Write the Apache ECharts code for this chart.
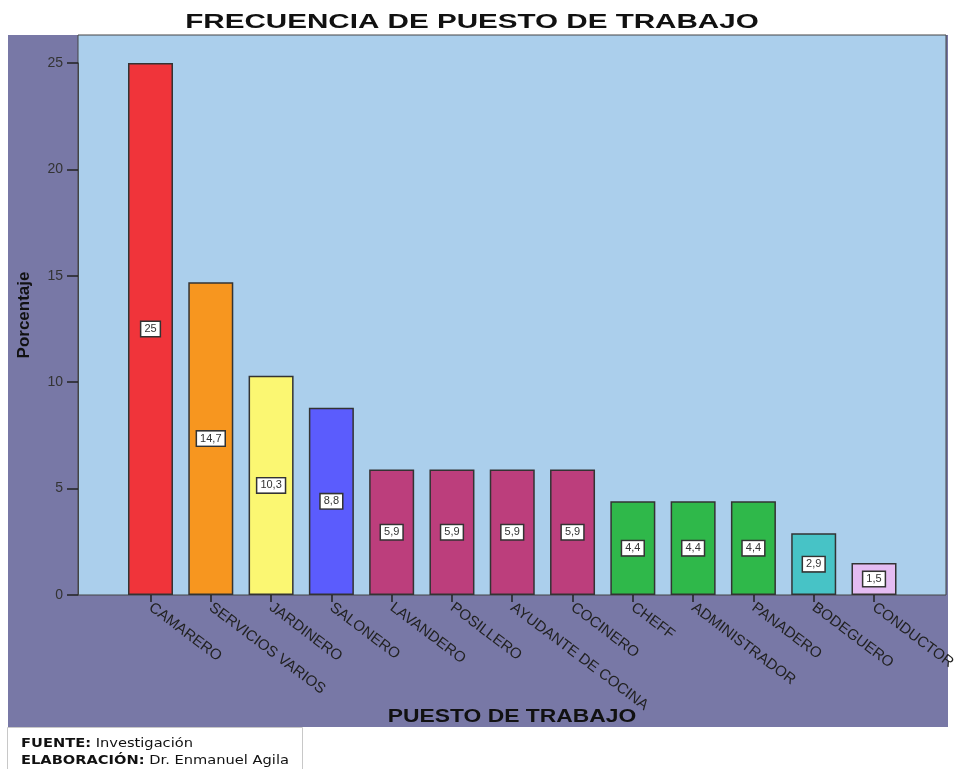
<!DOCTYPE html>
<html>
<head>
<meta charset="utf-8">
<script src="https://cdn.jsdelivr.net/npm/echarts@6/dist/echarts.min.js"></script>
<style>
  html, body { margin: 0; padding: 0; background: #fff; }
  #chart { width: 959px; height: 769px; }
</style>
</head>
<body>
<div id="chart"></div>
<script>
const categories = ["CAMARERO", "SERVICIOS VARIOS", "JARDINERO", "SALONERO", "LAVANDERO", "POSILLERO",
	"AYUDANTE DE COCINA", "COCINERO", "CHEFF", "ADMINISTRADOR", "PANADERO", "BODEGUERO", "CONDUCTOR"];
const porcentajes = [25, 14.7, 10.3, 8.8, 5.9, 5.9, 5.9, 5.9, 4.4, 4.4, 4.4, 2.9, 1.5];
const barColors = ["#f0343a", "#f7961f", "#fbf772", "#5b5cfd", "#bc3e7c", "#bc3e7c", "#bc3e7c", "#bc3e7c",
	"#2fb84a", "#2fb84a", "#2fb84a", "#47c3c6", "#e4bcf2"];

const chart = echarts.init(document.getElementById("chart"));

const option = {
	animation: false,
	grid: [
		// fondo morado
		{ left: 8, top: 35, right: 11, bottom: 42, show: true, backgroundColor: "#7878a6", borderWidth: 0 },
		// área del gráfico
		{ left: 78, top: 35, right: 13, bottom: 174, show: true, backgroundColor: "#abcfec", borderColor: "#444", borderWidth: 1 },
		// barras
		{ left: 120.35, top: 63, right: 54.85, bottom: 174 }
	],
	xAxis: [
		{ gridIndex: 0, type: "value", show: false },
		{ gridIndex: 1, type: "value", show: false },
		{
			gridIndex: 2,
			type: "category",
			data: categories,
			axisLine: { show: false },
			axisTick: { show: true, alignWithLabel: true, length: 7, lineStyle: { color: "#222", width: 1.5 } },
			axisLabel: { rotate: -37, margin: 11, fontSize: 15, color: "#222", fontFamily: "Liberation Sans" }
		}
	],
	yAxis: [
		{ gridIndex: 0, type: "value", show: false },
		{
			gridIndex: 1,
			type: "value",
			axisLine: { show: false },
			axisTick: { show: false },
			axisLabel: { show: false },
			splitLine: { show: false },
			name: "Porcentaje",
			nameLocation: "middle",
			nameRotate: 90,
			nameGap: 45,
			nameTextStyle: { fontFamily: "Liberation Sans", fontSize: 17, fontWeight: "bold", color: "#111" }
		},
		{
			gridIndex: 2,
			type: "value",
			min: 0,
			max: 25,
			interval: 5,
			offset: 42.35,
			splitLine: { show: false },
			axisLine: { show: true, lineStyle: { color: "#444" } },
			axisTick: { show: true, length: 11, lineStyle: { color: "#222", width: 1.5 } },
			axisLabel: { fontSize: 14, color: "#333", margin: 15, fontFamily: "Liberation Sans" }
		}
	],
	graphic: [
		{
			type: "text",
			x: 472, y: 22,
			scaleX: 1.48,
			style: {
				text: "FRECUENCIA DE PUESTO DE TRABAJO",
				font: "bold 20px 'Liberation Sans'",
				fill: "#111",
				align: "center",
				verticalAlign: "middle"
			}
		},
		{
			type: "text",
			x: 512, y: 717,
			scaleX: 1.27,
			style: {
				text: "PUESTO DE TRABAJO",
				font: "bold 18px 'Liberation Sans'",
				fill: "#111",
				align: "center",
				verticalAlign: "middle"
			}
		},
		{
			type: "rect",
			shape: { x: 7.5, y: 727.5, width: 295, height: 42 },
			style: { fill: "#fff", stroke: "#c8c8c8", lineWidth: 1 }
		},
		{
			type: "text",
			x: 21, y: 735,
			scaleX: 1.22,
			style: {
				text: "{b|FUENTE:} Investigación\n{b|ELABORACIÓN:} Dr. Enmanuel Agila",
				font: "12px 'DejaVu Sans'",
				fill: "#111",
				lineHeight: 17,
				rich: { b: { fontWeight: "bold", fontFamily: "DejaVu Sans", fontSize: 12, fill: "#111", lineHeight: 17 } }
			}
		}
	],
	series: [{
		name: "Porcentaje",
		type: "bar",
		xAxisIndex: 2,
		yAxisIndex: 2,
		barWidth: 45,
		data: porcentajes.map((v, i) => ({ value: v, itemStyle: { color: barColors[i] } })),
		itemStyle: { borderColor: "#333", borderWidth: 1.5 },
		label: {
			show: true,
			position: "inside",
			formatter: p => String(p.value).replace(".", ","),
			fontSize: 11,
			fontFamily: "Liberation Sans",
			color: "#333",
			backgroundColor: "#fff",
			borderColor: "#333",
			borderWidth: 1.5,
			padding: [2, 3, 1, 3]
		}
	}]
};

chart.setOption(option);
window.onresize = chart.resize;
</script>
</body>
</html>
